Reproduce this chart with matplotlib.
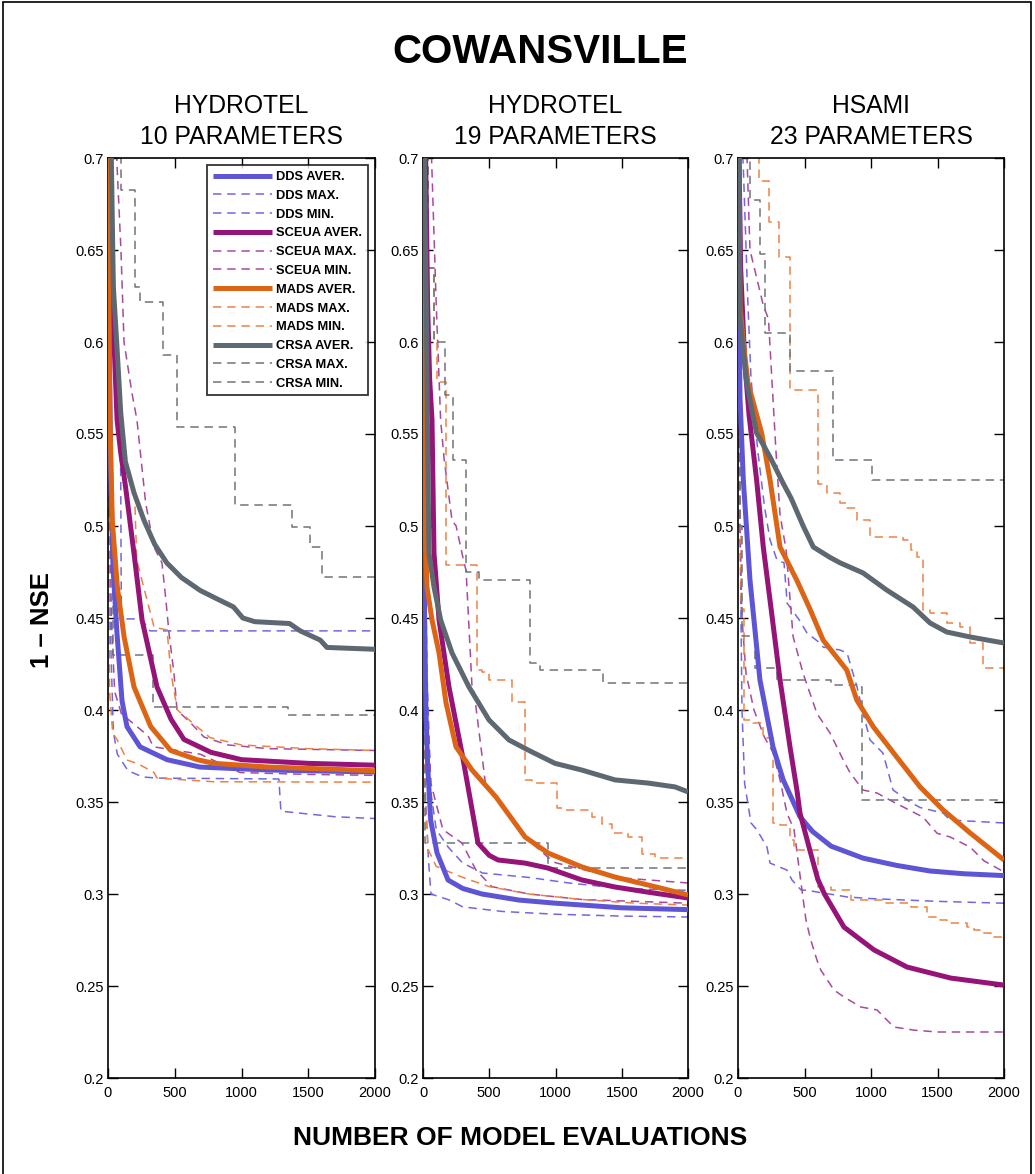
import matplotlib
matplotlib.use("Agg")
import matplotlib.pyplot as plt
from matplotlib.patches import Rectangle

plt.rcParams['font.family'] = ['Liberation Sans', 'DejaVu Sans']

# ---------------- texts ----------------
main_title = "COWANSVILLE"
panel_titles = [("HYDROTEL", "10 PARAMETERS"), ("HYDROTEL", "19 PARAMETERS"), ("HSAMI", "23 PARAMETERS")]
x_label = "NUMBER OF MODEL EVALUATIONS"
y_label = "1 \u2013 NSE"
x_ticks = [0, 500, 1000, 1500, 2000]
y_ticks = [0.2, 0.25, 0.3, 0.35, 0.4, 0.45, 0.5, 0.55, 0.6, 0.65, 0.7]
legend_labels = ["DDS AVER.", "DDS MAX.", "DDS MIN.", "SCEUA AVER.", "SCEUA MAX.", "SCEUA MIN.",
                 "MADS AVER.", "MADS MAX.", "MADS MIN.", "CRSA AVER.", "CRSA MAX.", "CRSA MIN."]

# ---------------- panel 1: HYDROTEL 10 parameters ----------------
p1_dds_avg_x = [0, 10, 20, 37, 67, 105, 142, 240, 442, 689, 1191, 2000]
p1_dds_avg_y = [0.78, 0.60, 0.53, 0.478, 0.442, 0.405, 0.391, 0.38, 0.373, 0.369, 0.3674, 0.3663]
p1_dds_max_x = [0, 25, 50, 85, 95, 100, 250, 315, 2000]
p1_dds_max_y = [0.80, 0.70, 0.62, 0.557, 0.53, 0.4495, 0.4495, 0.443, 0.443]
p1_dds_min_x = [0, 15, 40, 70, 150, 260, 370, 1280, 1295, 1700, 2000]
p1_dds_min_y = [0.78, 0.45, 0.388, 0.376, 0.367, 0.3636, 0.363, 0.3625, 0.345, 0.342, 0.341]
p1_sce_avg_x = [0, 15, 45, 68, 95, 132, 195, 255, 367, 472, 569, 771, 1000, 1500, 2000]
p1_sce_avg_y = [0.80, 0.70, 0.60, 0.5576, 0.54, 0.521, 0.485, 0.449, 0.4125, 0.395, 0.384, 0.377, 0.373, 0.371, 0.370]
p1_sce_max_x = [0, 35, 65, 97, 120, 180, 217, 282, 344, 404, 432, 457, 494, 517, 619, 719, 900, 1200, 2000]
p1_sce_max_y = [0.78, 0.72, 0.70, 0.65, 0.60, 0.572, 0.5576, 0.5125, 0.4886, 0.48, 0.461, 0.4418, 0.42, 0.40, 0.393, 0.3853, 0.381, 0.379, 0.378]
p1_sce_min_x = [0, 10, 25, 50, 100, 200, 300, 340, 690, 990, 1500, 2000]
p1_sce_min_y = [0.78, 0.55, 0.45, 0.41, 0.398, 0.392, 0.386, 0.38, 0.376, 0.366, 0.365, 0.3645]
p1_mad_avg_x = [0, 3, 8, 15, 32, 70, 120, 195, 320, 470, 667, 794, 1200, 2000]
p1_mad_avg_y = [0.78, 0.70, 0.60, 0.5576, 0.503, 0.467, 0.44, 0.4125, 0.391, 0.378, 0.373, 0.371, 0.369, 0.367]
p1_mad_max_x = [0, 20, 50, 100, 150, 200, 215, 345, 442, 472, 520, 764, 1000, 1500, 2000]
p1_mad_max_y = [0.78, 0.70, 0.62, 0.56, 0.53, 0.516, 0.4815, 0.445, 0.4435, 0.42, 0.40, 0.385, 0.381, 0.379, 0.378]
p1_mad_min_x = [0, 5, 12, 35, 70, 142, 217, 270, 345, 367, 794, 2000]
p1_mad_min_y = [0.78, 0.50, 0.41, 0.3875, 0.3837, 0.3728, 0.371, 0.369, 0.366, 0.363, 0.361, 0.3608]
p1_crs_avg_x = [0, 25, 40, 65, 95, 130, 195, 270, 350, 440, 550, 690, 800, 940, 1010, 1100, 1360, 1440, 1590, 1640, 2000]
p1_crs_avg_y = [0.80, 0.70, 0.63, 0.60, 0.562, 0.535, 0.518, 0.503, 0.49, 0.48, 0.472, 0.465, 0.461, 0.456, 0.450, 0.448, 0.447, 0.443, 0.438, 0.434, 0.433]
p1_crs_max_x = [0, 100, 202, 240, 412, 517, 951, 1378, 1513, 1603, 2000]
p1_crs_max_y = [0.80, 0.6826, 0.630, 0.622, 0.593, 0.554, 0.5114, 0.4995, 0.4886, 0.4723, 0.4723]
p1_crs_min_x = [0, 10, 25, 40, 337, 1348, 2000]
p1_crs_min_y = [0.80, 0.60, 0.50, 0.43, 0.4016, 0.3973, 0.3973]

# ---------------- panel 2: HYDROTEL 19 parameters ----------------
p2_dds_avg_x = [0, 5, 12, 22, 35, 58, 106, 189, 300, 445, 725, 1000, 1500, 2000]
p2_dds_avg_y = [0.78, 0.55, 0.45, 0.40, 0.37, 0.34, 0.3223, 0.3076, 0.303, 0.300, 0.2967, 0.295, 0.2925, 0.2915]
p2_dds_max_x = [0, 8, 30, 60, 100, 190, 300, 450, 800, 1100, 1500, 2000]
p2_dds_max_y = [0.78, 0.55, 0.42, 0.355, 0.335, 0.3255, 0.3168, 0.3114, 0.309, 0.306, 0.303, 0.302]
p2_dds_min_x = [0, 5, 15, 40, 60, 200, 300, 600, 1000, 1500, 2000]
p2_dds_min_y = [0.78, 0.45, 0.36, 0.32, 0.30, 0.2967, 0.293, 0.2905, 0.289, 0.288, 0.2875]
p2_sce_avg_x = [0, 20, 35, 50, 68, 83, 121, 196, 294, 360, 415, 500, 566, 770, 943, 1200, 1449, 1698, 2000]
p2_sce_avg_y = [0.78, 0.70, 0.62, 0.58, 0.5576, 0.4853, 0.449, 0.4125, 0.3766, 0.35, 0.3277, 0.321, 0.3185, 0.3168, 0.3141, 0.3076, 0.3038, 0.301, 0.2978]
p2_sce_max_x = [0, 30, 65, 100, 133, 160, 219, 250, 310, 325, 370, 385, 475, 520, 800, 943, 1000, 1450, 2000]
p2_sce_max_y = [0.80, 0.72, 0.699, 0.62, 0.5576, 0.536, 0.503, 0.50, 0.48, 0.476, 0.4125, 0.41, 0.358, 0.355, 0.329, 0.32, 0.317, 0.309, 0.306]
p2_sce_min_x = [0, 5, 10, 30, 60, 150, 294, 400, 520, 800, 1200, 1600, 2000]
p2_sce_min_y = [0.78, 0.50, 0.418, 0.40, 0.36, 0.335, 0.3277, 0.313, 0.304, 0.300, 0.297, 0.296, 0.295]
p2_mad_avg_x = [0, 3, 8, 15, 30, 68, 121, 174, 249, 370, 551, 770, 943, 1200, 1449, 1698, 2000]
p2_mad_avg_y = [0.78, 0.65, 0.55, 0.50, 0.4668, 0.449, 0.431, 0.4038, 0.38, 0.3674, 0.3527, 0.331, 0.3223, 0.3147, 0.3092, 0.3049, 0.2995]
p2_mad_max_x = [0, 15, 40, 80, 106, 174, 408, 445, 500, 672, 770, 823, 1011, 1072, 1275, 1350, 1426, 1550, 1653, 1751, 2000]
p2_mad_max_y = [0.80, 0.70, 0.64, 0.60, 0.578, 0.4788, 0.4217, 0.4207, 0.4163, 0.4043, 0.362, 0.3603, 0.347, 0.3456, 0.342, 0.338, 0.333, 0.331, 0.322, 0.3197, 0.3197]
p2_mad_min_x = [0, 3, 8, 15, 40, 100, 300, 500, 800, 1200, 1600, 2000]
p2_mad_min_y = [0.78, 0.50, 0.40, 0.351, 0.324, 0.315, 0.309, 0.304, 0.300, 0.297, 0.295, 0.294]
p2_crs_avg_x = [0, 10, 25, 33, 45, 83, 133, 219, 347, 498, 649, 800, 996, 1197, 1449, 1698, 1902, 2000]
p2_crs_avg_y = [0.78, 0.70, 0.62, 0.5576, 0.4853, 0.4668, 0.449, 0.431, 0.4125, 0.3946, 0.3837, 0.378, 0.371, 0.3674, 0.362, 0.3603, 0.3582, 0.3555]
p2_crs_max_x = [0, 15, 40, 80, 166, 226, 325, 423, 808, 880, 1358, 2000]
p2_crs_max_y = [0.80, 0.70, 0.64, 0.60, 0.5712, 0.536, 0.475, 0.4707, 0.4255, 0.4217, 0.4147, 0.4147]
p2_crs_min_x = [0, 5, 12, 943, 2000]
p2_crs_min_y = [0.80, 0.50, 0.3277, 0.3141, 0.3141]

# ---------------- panel 3: HSAMI 23 parameters ----------------
p3_dds_avg_x = [0, 5, 15, 40, 90, 165, 263, 340, 466, 560, 700, 940, 1195, 1444, 1700, 2000]
p3_dds_avg_y = [0.78, 0.65, 0.57, 0.525, 0.4707, 0.4163, 0.38, 0.362, 0.342, 0.334, 0.326, 0.3195, 0.3155, 0.3125, 0.311, 0.310]
p3_dds_max_x = [0, 20, 40, 75, 98, 150, 200, 241, 293, 346, 370, 460, 519, 617, 640, 767, 820, 895, 940, 993, 1090, 1166, 1241, 1293, 1369, 1542, 1594, 2000]
p3_dds_max_y = [0.80, 0.72, 0.695, 0.62, 0.58, 0.54, 0.51, 0.4924, 0.4815, 0.48, 0.458, 0.449, 0.4418, 0.4364, 0.4342, 0.4326, 0.431, 0.4125, 0.3984, 0.3837, 0.3766, 0.3565, 0.3527, 0.350, 0.347, 0.344, 0.3402, 0.3386]
p3_dds_min_x = [0, 5, 15, 30, 50, 98, 143, 218, 241, 368, 406, 474, 519, 820, 1000, 1500, 2000]
p3_dds_min_y = [0.80, 0.60, 0.50, 0.40, 0.36, 0.3386, 0.3348, 0.3255, 0.3168, 0.313, 0.3076, 0.3022, 0.302, 0.2984, 0.2975, 0.296, 0.295]
p3_sce_avg_x = [0, 8, 20, 50, 83, 140, 190, 253, 316, 391, 444, 466, 547, 600, 650, 797, 1023, 1271, 1600, 2000]
p3_sce_avg_y = [0.80, 0.70, 0.64, 0.59, 0.5603, 0.525, 0.4886, 0.4527, 0.4163, 0.3799, 0.356, 0.344, 0.322, 0.308, 0.300, 0.282, 0.2696, 0.2603, 0.2543, 0.2505]
p3_sce_max_x = [0, 30, 68, 90, 190, 229, 286, 316, 361, 414, 489, 594, 692, 790, 842, 940, 1045, 1143, 1250, 1391, 1497, 1594, 1745, 1850, 2000]
p3_sce_max_y = [0.80, 0.72, 0.70, 0.65, 0.62, 0.6125, 0.54, 0.506, 0.4875, 0.44, 0.42, 0.398, 0.3875, 0.373, 0.366, 0.3565, 0.3549, 0.351, 0.347, 0.3418, 0.333, 0.331, 0.3255, 0.318, 0.312]
p3_sce_min_x = [0, 5, 15, 30, 60, 120, 200, 263, 316, 368, 421, 471, 511, 547, 594, 622, 722, 797, 923, 1045, 1120, 1173, 1324, 1500, 2000]
p3_sce_min_y = [0.80, 0.60, 0.50, 0.45, 0.42, 0.40, 0.385, 0.377, 0.362, 0.344, 0.335, 0.3076, 0.2859, 0.275, 0.264, 0.2587, 0.2478, 0.244, 0.2386, 0.237, 0.2315, 0.2277, 0.226, 0.225, 0.225]
p3_mad_avg_x = [0, 5, 15, 40, 75, 178, 241, 316, 441, 540, 640, 818, 893, 1018, 1193, 1369, 1542, 1745, 2000]
p3_mad_avg_y = [0.80, 0.68, 0.62, 0.60, 0.5777, 0.5505, 0.525, 0.4886, 0.4707, 0.455, 0.438, 0.4217, 0.4054, 0.3908, 0.3745, 0.3582, 0.3457, 0.3332, 0.3185]
p3_mad_max_x = [0, 160, 233, 308, 390, 602, 669, 767, 820, 895, 993, 1241, 1300, 1346, 1391, 1444, 1572, 1669, 1745, 1842, 2000]
p3_mad_max_y = [0.80, 0.6875, 0.665, 0.646, 0.574, 0.523, 0.518, 0.5125, 0.51, 0.503, 0.494, 0.4924, 0.487, 0.483, 0.4543, 0.4527, 0.4473, 0.445, 0.4364, 0.4228, 0.4217]
p3_mad_min_x = [0, 3, 8, 20, 45, 113, 188, 263, 316, 391, 420, 602, 700, 850, 1098, 1300, 1421, 1519, 1572, 1722, 1775, 1827, 1900, 2000]
p3_mad_min_y = [0.80, 0.60, 0.50, 0.455, 0.3946, 0.393, 0.385, 0.3386, 0.3375, 0.3293, 0.3239, 0.304, 0.3022, 0.2967, 0.295, 0.293, 0.2875, 0.2859, 0.2842, 0.282, 0.2804, 0.2788, 0.2766, 0.2766]
p3_crs_avg_x = [0, 8, 15, 65, 113, 140, 241, 338, 400, 490, 566, 690, 767, 940, 1118, 1316, 1444, 1569, 1745, 2000]
p3_crs_avg_y = [0.78, 0.70, 0.6136, 0.5777, 0.56, 0.5505, 0.5375, 0.5234, 0.515, 0.50, 0.4886, 0.483, 0.48, 0.4745, 0.4652, 0.456, 0.4473, 0.4424, 0.4397, 0.4364]
p3_crs_max_x = [0, 30, 90, 165, 203, 391, 714, 1008, 2000]
p3_crs_max_y = [0.80, 0.70, 0.677, 0.648, 0.6049, 0.5842, 0.5359, 0.525, 0.525]
p3_crs_min_x = [0, 5, 15, 30, 128, 291, 700, 893, 935, 2000]
p3_crs_min_y = [0.80, 0.60, 0.50, 0.44, 0.4228, 0.4163, 0.4136, 0.4125, 0.3511, 0.3511]

# ---------------- styles ----------------
colors_avg = {"dds": "#5E55D6", "sce": "#961478", "mad": "#DC6414", "crs": "#5E6870"}
colors_dash = {"dds": "#7068E2", "sce": "#A84A9C", "mad": "#EC8245", "crs": "#6C747A"}
methods = ["dds", "sce", "mad", "crs"]
kinds = ["avg", "max", "min"]

g = globals()
panels_data = []
for p in (1, 2, 3):
    d = {}
    for m in methods:
        for k in kinds:
            d[(m, k)] = (g[f"p{p}_{m}_{k}_x"], g[f"p{p}_{m}_{k}_y"])
    panels_data.append(d)

# series drawn as staircases (steps-post)
step_series = {(1, "crs", "max"), (1, "crs", "min"), (2, "crs", "max"), (2, "crs", "min"),
               (3, "crs", "max"), (3, "crs", "min"), (2, "mad", "max"), (3, "mad", "max"),
               (3, "mad", "min")}

fig = plt.figure(figsize=(10.35, 11.74), dpi=100)
fig.patch.set_facecolor("white")

W, H = 1035.0, 1174.0
ax_px = [(108, 375), (423, 688), (738, 1004)]
top_px, bot_px = 158, 1078

axes = []
for i, (l, r) in enumerate(ax_px):
    ax = fig.add_axes([l / W, 1 - bot_px / H, (r - l) / W, (bot_px - top_px) / H])
    axes.append(ax)
    handles = []
    for m in methods:
        for k in kinds:
            x, y = panels_data[i][(m, k)]
            ds = "steps-post" if (i + 1, m, k) in step_series else "default"
            if k == "avg":
                ln, = ax.plot(x, y, color=colors_avg[m], lw=3.6, solid_capstyle="butt",
                              drawstyle=ds, zorder=3)
            else:
                ln, = ax.plot(x, y, color=colors_dash[m], lw=1.1, ls=(0, (5.5, 3.8)),
                              drawstyle=ds, zorder=2)
            handles.append(ln)
    ax.set_xlim(0, 2000)
    ax.set_ylim(0.2, 0.7)
    ax.set_xticks(x_ticks)
    ax.set_yticks(y_ticks)
    ax.set_yticklabels([f"{v:g}" for v in y_ticks])
    ax.tick_params(direction="in", length=7, width=1.0, top=True, right=True,
                   labelsize=10.5, pad=3)
    ax.tick_params(axis="x", pad=6)
    for s in ax.spines.values():
        s.set_linewidth(1.2)
    cx = (l + r) / 2 / W
    fig.text(cx, 1 - 106 / H, panel_titles[i][0], ha="center", va="center", fontsize=17.8)
    fig.text(cx, 1 - 137 / H, panel_titles[i][1], ha="center", va="center", fontsize=17.8)
    if i == 0:
        leg = ax.legend(handles, legend_labels, loc="upper right",
                        bbox_to_anchor=(0.974, 0.992), fontsize=9.3, frameon=True,
                        fancybox=False, handlelength=4.6, labelspacing=0.52,
                        borderpad=0.45, handletextpad=0.3, borderaxespad=0.0)
        leg.get_frame().set_edgecolor("black")
        leg.get_frame().set_linewidth(1.3)
        for t in leg.get_texts():
            t.set_fontweight("bold")

fig.text(540 / W, 1 - 52 / H, main_title, ha="center", va="center", fontsize=29, fontweight="bold")
fig.text(520 / W, 1 - 1138 / H, x_label, ha="center", va="center", fontsize=19, fontweight="bold")
fig.text(42 / W, 1 - 620 / H, y_label, ha="center", va="center", fontsize=18.5, fontweight="bold",
         rotation=90)

fig.patches.append(Rectangle((3 / W, -0.01), 1028 / W, 1.008, transform=fig.transFigure,
                             fill=False, edgecolor="black", lw=1.2))

fig.savefig("out.png", dpi=100, facecolor="white")
